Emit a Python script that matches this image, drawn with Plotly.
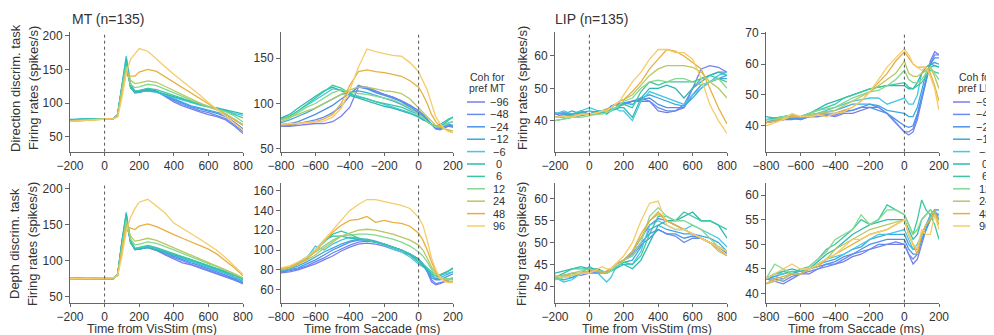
import plotly.graph_objects as go

COH = [-96, -48, -24, -12, -6, 0, 6, 12, 24, 48, 96]
COLORS = ["#7a7ee8", "#6a8af0", "#4f92ea", "#3fa8e0", "#45c8e4", "#2fb8b0",
          "#3cc89e", "#84d890", "#b6c860", "#e6b040", "#f6cc6a"]

T_VIS = [-200, -150, -100, -50, 0, 50, 75, 100, 125, 150, 175, 200, 250, 300,
         350, 400, 450, 500, 550, 600, 650, 700, 750, 800]
T_SAC = [-800, -750, -700, -650, -600, -550, -500, -450, -400, -350, -300, -250,
         -200, -150, -100, -50, 0, 25, 50, 75, 100, 125, 150, 175, 200]

VIS_TICKS = [-200, 0, 200, 400, 600, 800]
SAC_TICKS = [-800, -600, -400, -200, 0, 200]

# MT, direction task, aligned to VisStim
MT_DIR_VIS = [
    [73, 75, 76, 76, 77, 77, 82, 120, 150, 128, 118, 118, 122, 118, 110, 102, 96, 91, 87, 83, 80, 75, 66, 55],
    [74, 75, 76, 77, 77, 77, 82, 122, 155, 126, 116, 117, 121, 117, 110, 104, 98, 93, 89, 86, 82, 77, 68, 58],
    [74, 76, 76, 77, 77, 77, 82, 124, 160, 124, 115, 116, 120, 117, 111, 105, 100, 95, 92, 89, 85, 80, 72, 62],
    [75, 76, 77, 77, 77, 77, 83, 126, 164, 126, 116, 116, 119, 117, 112, 106, 101, 96, 93, 90, 87, 83, 76, 68],
    [76, 77, 77, 77, 77, 77, 83, 128, 170, 130, 117, 117, 118, 116, 112, 108, 104, 100, 97, 94, 92, 89, 85, 82],
    [75, 76, 77, 77, 77, 77, 83, 127, 166, 125, 117, 117, 119, 117, 113, 110, 106, 103, 99, 95, 93, 90, 86, 84],
    [74, 75, 76, 76, 77, 77, 82, 124, 160, 122, 118, 119, 122, 120, 116, 112, 107, 102, 98, 94, 91, 88, 83, 78],
    [74, 75, 76, 76, 77, 77, 82, 120, 155, 128, 123, 124, 128, 126, 121, 115, 110, 104, 100, 95, 91, 87, 81, 72],
    [73, 74, 75, 76, 76, 77, 81, 118, 150, 134, 129, 130, 133, 131, 125, 118, 112, 106, 100, 94, 90, 84, 76, 68],
    [73, 74, 75, 76, 76, 77, 80, 110, 145, 140, 140, 146, 150, 147, 139, 131, 122, 114, 106, 98, 91, 84, 76, 67],
    [73, 74, 75, 76, 76, 77, 79, 108, 145, 165, 173, 181, 177, 165, 154, 143, 133, 122, 112, 101, 91, 80, 70, 60],
]

# MT, direction task, aligned to Saccade
MT_DIR_SAC = [
    [75, 75, 76, 77, 78, 78, 80, 86, 96, 118, 118, 114, 110, 107, 103, 98, 92, 88, 83, 77, 72, 71, 73, 75, 74],
    [76, 76, 78, 80, 82, 85, 90, 97, 108, 120, 117, 113, 110, 107, 103, 98, 92, 88, 83, 77, 72, 72, 74, 76, 76],
    [77, 78, 80, 84, 88, 93, 98, 105, 112, 118, 116, 112, 109, 106, 102, 96, 90, 86, 82, 77, 73, 73, 75, 77, 74],
    [79, 82, 86, 90, 95, 100, 105, 110, 112, 114, 112, 109, 106, 103, 99, 94, 89, 85, 81, 77, 74, 74, 76, 77, 76],
    [83, 86, 92, 98, 104, 110, 116, 115, 110, 108, 105, 102, 99, 96, 93, 90, 86, 83, 80, 77, 75, 76, 77, 79, 80],
    [84, 88, 95, 102, 108, 114, 118, 114, 109, 106, 103, 100, 97, 95, 92, 89, 85, 82, 80, 77, 75, 77, 80, 83, 85],
    [82, 86, 92, 99, 105, 112, 120, 117, 111, 107, 105, 102, 100, 98, 96, 92, 88, 85, 80, 77, 75, 76, 78, 82, 85],
    [80, 84, 90, 96, 100, 106, 112, 115, 113, 111, 110, 108, 106, 104, 100, 95, 88, 85, 80, 77, 74, 75, 76, 78, 80],
    [82, 85, 88, 92, 95, 100, 105, 110, 115, 118, 118, 116, 114, 113, 111, 105, 95, 90, 85, 80, 76, 74, 72, 71, 70],
    [76, 77, 78, 79, 80, 83, 88, 100, 120, 135, 137, 135, 134, 132, 130, 125, 118, 110, 100, 88, 80, 75, 72, 70, 68],
    [77, 78, 78, 79, 80, 81, 85, 95, 115, 140, 160, 157, 155, 153, 152, 145, 135, 125, 115, 100, 85, 78, 72, 69, 68],
]

# MT, depth task, aligned to VisStim
MT_DEP_VIS = [
    [74, 75, 75, 75, 75, 75, 80, 120, 152, 128, 116, 116, 118, 114, 108, 102, 97, 94, 90, 86, 82, 78, 73, 68],
    [75, 75, 75, 75, 75, 75, 80, 122, 155, 127, 116, 116, 119, 115, 109, 104, 99, 95, 91, 87, 83, 79, 74, 68],
    [75, 75, 75, 76, 75, 75, 80, 124, 160, 126, 115, 116, 120, 116, 111, 106, 101, 97, 93, 89, 85, 80, 75, 69],
    [75, 76, 75, 76, 75, 75, 80, 126, 163, 127, 116, 117, 120, 117, 112, 107, 103, 99, 95, 91, 87, 82, 77, 71],
    [76, 76, 76, 76, 76, 76, 81, 128, 167, 128, 117, 117, 119, 116, 112, 108, 104, 100, 96, 92, 88, 84, 79, 73],
    [75, 75, 75, 75, 75, 75, 80, 127, 165, 125, 116, 116, 118, 115, 111, 108, 105, 101, 97, 93, 89, 85, 80, 75],
    [74, 74, 74, 74, 74, 75, 80, 124, 160, 124, 117, 118, 121, 118, 114, 110, 106, 102, 98, 94, 90, 85, 80, 74],
    [74, 74, 74, 74, 74, 75, 80, 120, 156, 130, 122, 123, 126, 124, 120, 115, 110, 105, 100, 96, 92, 87, 82, 76],
    [74, 74, 75, 75, 75, 75, 80, 118, 150, 134, 127, 128, 131, 128, 123, 118, 112, 107, 102, 97, 93, 88, 82, 76],
    [75, 75, 76, 76, 76, 76, 80, 114, 148, 145, 143, 148, 151, 147, 141, 136, 131, 126, 121, 116, 109, 100, 90, 79],
    [75, 75, 76, 76, 76, 76, 79, 106, 140, 160, 172, 181, 185, 176, 166, 152, 145, 138, 130, 122, 114, 104, 93, 81],
]

# MT, depth task, aligned to Saccade
MT_DEP_SAC = [
    [77, 78, 80, 83, 86, 90, 94, 99, 103, 106, 107, 106, 104, 101, 98, 95, 90, 85, 78, 68, 65, 66, 68, 70, 72],
    [78, 79, 81, 84, 88, 92, 97, 101, 105, 108, 109, 108, 106, 103, 100, 96, 91, 86, 80, 70, 66, 67, 68, 70, 71],
    [78, 80, 82, 86, 90, 95, 100, 104, 108, 110, 110, 108, 106, 103, 100, 96, 91, 86, 80, 72, 70, 70, 72, 74, 76],
    [79, 81, 84, 88, 93, 98, 102, 106, 109, 111, 111, 109, 106, 103, 100, 96, 90, 85, 80, 74, 71, 72, 74, 76, 78],
    [80, 82, 86, 92, 104, 100, 106, 110, 113, 112, 110, 108, 105, 101, 98, 93, 86, 83, 80, 75, 73, 74, 76, 77, 78],
    [80, 82, 86, 92, 100, 110, 114, 114, 112, 111, 110, 108, 106, 103, 100, 95, 88, 84, 80, 76, 74, 75, 77, 79, 82],
    [80, 82, 87, 93, 100, 108, 116, 119, 116, 112, 110, 108, 106, 103, 100, 96, 90, 86, 82, 77, 74, 75, 77, 79, 81],
    [80, 82, 86, 92, 98, 104, 110, 114, 115, 116, 116, 115, 113, 111, 108, 104, 98, 94, 88, 80, 73, 71, 71, 71, 72],
    [80, 82, 86, 90, 95, 102, 108, 114, 117, 120, 121, 120, 118, 116, 113, 110, 105, 100, 92, 83, 76, 72, 70, 70, 70],
    [81, 83, 86, 91, 99, 108, 118, 125, 130, 131, 134, 128, 130, 128, 127, 124, 117, 110, 100, 88, 78, 72, 69, 68, 68],
    [82, 84, 88, 93, 100, 110, 120, 130, 140, 146, 151, 151, 149, 147, 145, 142, 133, 125, 110, 92, 80, 72, 68, 67, 67],
]

# LIP, direction task, aligned to VisStim
LIP_DIR_VIS = [
    [42, 41.5, 42, 42.5, 42, 43, 42.5, 43, 44, 45, 44.5, 45, 46, 47, 46, 43, 42.5, 43, 44, 50, 56, 57, 56.5, 55],
    [41, 42, 41.5, 42, 42, 42.5, 43, 43.5, 44, 45, 45.5, 45, 46, 46, 46, 44, 43, 43, 45, 50, 53, 54, 55, 55],
    [42, 42.5, 42, 43, 42, 43, 42.5, 43, 44.5, 45, 45, 45.5, 46, 46.5, 47, 45, 44, 44, 44, 48, 51, 52, 53, 54],
    [42.5, 42, 43, 42, 42, 43, 43, 43.5, 44, 45, 45, 45.5, 45, 47, 48, 47, 46, 45, 44.5, 47, 50, 52, 53, 53],
    [42, 43, 42, 43, 44, 43, 43, 43, 43.5, 44, 43, 43, 40, 46, 49, 48, 47, 46, 45, 48, 50, 52, 54, 55],
    [41, 41.5, 42, 42.5, 43, 42.5, 43, 42, 43, 43.5, 44, 44, 41, 47, 50, 50, 51, 50, 47, 50, 52, 54, 55, 54],
    [40, 40.5, 41, 41.5, 42, 42, 42.5, 43, 43, 44, 44.5, 45, 44, 49, 52, 51, 52, 52, 52, 52, 53, 54, 53, 52],
    [40, 40.5, 41, 41, 41.5, 42, 42, 42.5, 43, 44, 45, 46, 47, 50, 52, 52.5, 52, 53, 53, 52, 51, 52, 53, 50],
    [41, 41.5, 41, 42, 42, 42.5, 43, 43, 44, 45, 46, 46.5, 48, 51, 54, 56, 57, 57, 57, 56.5, 55, 52, 50, 47],
    [41, 41, 41.5, 42, 42, 42.5, 43, 43.5, 44, 45, 46, 46.5, 49, 52, 56, 59, 62, 61.5, 60, 58, 56, 50, 44, 39],
    [41, 41.5, 41, 42, 42, 42.5, 43, 43, 44, 45, 46, 48, 52, 55, 59, 62, 62, 61, 61, 59, 53, 45, 40, 36],
]

# LIP, direction task, aligned to Saccade
LIP_DIR_SAC = [
    [41, 41.5, 42, 42, 42.5, 43, 43, 43.5, 43, 44, 44, 45, 46, 46, 44, 41, 38, 37, 38, 42, 48, 55, 61, 64, 63],
    [41, 42, 42, 42.5, 42, 43, 43, 43.5, 43.5, 44.5, 45, 46, 47, 46, 44, 41, 38, 38, 39, 43, 49, 55, 60, 63, 63],
    [41, 41.5, 42, 42.5, 42, 43, 43.5, 44, 44, 45, 45, 46, 46, 45, 44, 42, 40, 39.5, 40, 44, 50, 55, 60, 62, 62],
    [42, 42, 42, 43, 42.5, 43.5, 44, 44.5, 45, 46, 47, 47, 47, 46.5, 45, 44.5, 44, 43, 43, 46, 52, 57, 60, 60.5, 60],
    [42, 42.5, 42, 43, 43, 43.5, 44, 45, 46, 47, 48, 48.5, 49, 49, 47, 48, 49, 47, 47, 50, 57, 58, 59, 59.5, 59],
    [43, 42.5, 43, 43.5, 43, 44, 45.5, 47, 48, 49, 50, 51, 52, 52.5, 53, 53, 53, 52, 52, 54, 57, 59, 60, 59.5, 59],
    [42, 42.5, 43, 43, 43, 44, 45, 46, 47, 49, 50, 51, 52, 52.5, 53, 53.5, 54, 52.5, 52, 53, 54, 56, 58, 57.5, 57],
    [42, 42, 43, 43.5, 43, 44, 45, 45.5, 46, 47.5, 49, 50, 51, 51.5, 53, 55, 58, 55, 54, 54, 55, 57, 59, 57, 55],
    [42, 42, 42.5, 43, 43, 43.5, 44, 44.5, 45, 46.5, 48, 49.5, 51, 53, 55, 57, 61, 57, 56, 56, 57, 58, 59, 56, 52],
    [41, 41.5, 42, 43, 43, 43, 43.5, 44, 44, 45, 46, 48, 51, 54, 57, 61, 64, 62, 60, 59, 59, 59, 57, 53, 48],
    [40, 41, 42, 44, 43, 43, 43.5, 43, 44, 44.5, 46, 48, 51, 55, 59, 62, 65, 63, 60, 59, 58, 59, 56, 52, 45],
]

# LIP, depth task, aligned to VisStim
LIP_DEP_VIS = [
    [42, 42.5, 43, 42.5, 43, 43, 43.5, 43, 44, 45, 45.5, 46, 48, 51, 54, 55.5, 55, 54, 53, 52, 51, 50, 49, 48],
    [42.5, 42, 42.5, 43, 43.5, 43, 43, 43.5, 44, 45, 45.5, 46, 47.5, 50, 52, 53, 52, 51.5, 50, 51, 51, 50, 49, 48],
    [42, 42.5, 42, 43, 43.5, 44, 43.5, 43, 44, 45, 45.5, 46, 47, 49.5, 51, 53, 52, 52, 51, 51.5, 51, 50, 49, 47.5],
    [42, 41.5, 42, 43, 44.5, 43.5, 43, 43, 43.5, 44, 45, 45.5, 46, 49, 53, 54, 53, 52.5, 52, 52, 51.5, 51, 50, 48],
    [42, 41, 41.5, 43, 44.5, 43, 42, 41, 42, 44, 45, 45, 45, 48, 54, 55, 54, 53, 53, 54, 53, 52, 51, 49],
    [43, 43.5, 44, 44.5, 44, 44, 43, 43, 43.5, 44, 44.5, 45, 44, 46, 50, 54, 55, 55, 56, 57, 55, 55, 54, 51],
    [42, 43, 44, 44, 44, 43.5, 43, 43, 43.5, 44, 45, 45.5, 45, 47, 52, 56, 56, 55, 57, 56, 55, 55, 54, 53],
    [41.5, 42, 43, 43.5, 44, 43.5, 43.5, 43, 43.5, 44.5, 45, 46, 47, 50, 56, 58, 56, 55, 55, 54, 53, 51, 49, 48],
    [42, 42.5, 43, 43, 43.5, 43.5, 43, 43, 44, 45, 45.5, 46, 48, 51, 55, 56.5, 55, 54, 53, 52, 51, 50, 48, 47],
    [42, 42.5, 42.5, 43, 43.5, 43.5, 43, 43.5, 44, 45, 45.5, 46, 48, 52, 55, 57, 55, 54, 53, 52, 51, 50, 48.5, 47],
    [42.5, 42, 42.5, 43, 43, 44, 44.5, 44, 44, 45, 46, 47, 50, 55, 59, 59.5, 54, 53, 53, 52, 51, 50, 49, 48],
]

# LIP, depth task, aligned to Saccade
LIP_DEP_SAC = [
    [43, 42.5, 42, 43, 44, 44, 45, 45.5, 46, 46.5, 47.5, 48, 49, 49.5, 50, 50, 50, 48, 46, 47, 50, 53, 56, 57, 55],
    [43, 43, 42.5, 43.5, 44, 44.5, 45, 46, 46, 47, 48, 48.5, 49, 50, 50, 50.5, 50, 48, 47, 48, 51, 53, 55, 56, 56],
    [43, 43.5, 43, 44, 44, 45, 45.5, 46, 46.5, 47.5, 48, 49, 50, 50.5, 51, 51, 51, 49, 48, 48, 51, 53, 55, 57, 57],
    [43, 43.5, 44, 44.5, 44, 45, 46, 46.5, 47, 48, 49, 49.5, 51, 51.5, 52, 52, 52, 50, 49, 49, 51, 53, 55, 56.5, 56],
    [43, 44, 44, 44.5, 44.5, 45, 46, 47, 47.5, 48, 49, 50, 51, 52, 52, 52.5, 53, 51, 49, 50, 52, 54, 56, 57, 57],
    [43, 44, 44.5, 45, 44.5, 45, 46.5, 48, 49, 50.5, 52, 53, 54, 54.5, 55, 55, 55, 53, 51, 52, 55, 56, 57, 56, 55],
    [43, 44, 44.5, 44, 45, 45.5, 47, 49, 50, 51.5, 53, 55, 54, 55, 58, 57, 56, 54, 52, 55, 59, 57, 56, 54, 51],
    [43, 46, 45, 44, 44, 45.5, 47, 48.5, 51, 52, 53, 56, 54, 55, 57, 57, 56, 54, 52, 53, 55, 56, 57, 56, 55],
    [42, 42.5, 43, 44, 44, 45, 46, 47, 49, 50, 51, 52, 53, 53.5, 54, 54.5, 55, 52, 50, 49, 52, 54, 55, 56, 54],
    [42, 43, 43.5, 44, 44, 45, 45.5, 47, 48, 49, 50, 51, 52, 52.5, 53, 54, 55, 52, 50, 48, 52, 54, 55, 57, 54],
    [43, 44, 45, 46, 45, 45, 46, 47, 48, 49.5, 51, 51, 52, 52.5, 53, 54, 55, 52, 50, 49, 53, 52, 52, 56, 53],
]

W, H = 994, 335
OFF = 8  # page body margin in the browser
FONT = "Liberation Sans, Arial, sans-serif"


def px(x):
    return (x - OFF) / W


def py(y):
    return 1 - (y - OFF) / H


COLS = [(70, 243), (281, 453), (555, 727), (766, 939)]
ROWS = [(31.7, 151.7), (182.7, 302.5)]

PANELS = [
    # data, times, col, row, yrange, yticks, xticks
    (MT_DIR_VIS, T_VIS, 0, 0, [28, 206], [50, 100, 150, 200], VIS_TICKS),
    (MT_DIR_SAC, T_SAC, 1, 0, [47, 179], [50, 100, 150], SAC_TICKS),
    (LIP_DIR_VIS, T_VIS, 2, 0, [30.4, 67.5], [40, 50, 60], VIS_TICKS),
    (LIP_DIR_SAC, T_SAC, 3, 0, [31.6, 70.5], [40, 50, 60, 70], SAC_TICKS),
    (MT_DEP_VIS, T_VIS, 0, 1, [42, 208], [50, 100, 150, 200], VIS_TICKS),
    (MT_DEP_SAC, T_SAC, 1, 1, [47, 168], [60, 80, 100, 120, 140, 160], SAC_TICKS),
    (LIP_DEP_VIS, T_VIS, 2, 1, [36.3, 63.7], [40, 45, 50, 55, 60], VIS_TICKS),
    (LIP_DEP_SAC, T_SAC, 3, 1, [38.2, 62.5], [40, 45, 50, 55, 60], SAC_TICKS),
]

fig = go.Figure()
layout = {}
shapes = []
for k, (data, times, ci, ri, yr, yt, xt) in enumerate(PANELS):
    n = k + 1
    xa = "x" if n == 1 else f"x{n}"
    ya = "y" if n == 1 else f"y{n}"
    for series, color in zip(data, COLORS):
        fig.add_trace(go.Scatter(x=times, y=series, mode="lines", xaxis=xa, yaxis=ya,
                                 line=dict(color=color, width=1.3), showlegend=False,
                                 hoverinfo="skip"))
    x0, x1 = COLS[ci]
    y0, y1 = ROWS[ri]
    common = dict(showline=True, linecolor="#666", linewidth=1, ticks="outside",
                  tickcolor="#666", showgrid=False, zeroline=False, automargin=False)
    layout["xaxis" if n == 1 else f"xaxis{n}"] = dict(
        domain=[px(x0), px(x1)], anchor=ya, range=[times[0], times[-1]], ticklen=3,
        tickvals=xt, tickfont=dict(size=12, color="#333", family=FONT), **common)
    layout["yaxis" if n == 1 else f"yaxis{n}"] = dict(
        domain=[py(y1), py(y0)], anchor=xa, range=yr, tickvals=yt, ticklen=4,
        tickfont=dict(size=12, color="#333", family=FONT), **common)
    shapes.append(dict(type="line", xref=xa, yref=f"{ya} domain", x0=0, x1=0, y0=0, y1=1,
                       line=dict(color="#555", width=1, dash="dot")))

annotations = []


def text(x, y, s, size=13, angle=0, xanchor="center", yanchor="middle"):
    annotations.append(dict(x=px(x), y=py(y), xref="paper", yref="paper", text=s,
                            showarrow=False, textangle=angle, xanchor=xanchor,
                            yanchor=yanchor, font=dict(size=size, color="#333", family=FONT)))


text(70, 19, "MT (n=135)", size=14, xanchor="left")
text(553, 19, "LIP (n=135)", size=14, xanchor="left")
text(15, 88, "Direction discrim. task", size=13, angle=-90)
text(33, 88, "Firing rates (spikes/s)", size=13, angle=-90)
text(15, 244, "Depth discrim. task", size=13, angle=-90)
text(33, 244, "Firing rates (spikes/s)", size=13, angle=-90)
text(522, 88, "Firing rates (spikes/s)", size=13, angle=-90)
text(522, 244, "Firing rates (spikes/s)", size=13, angle=-90)
text(152, 329, "Time from VisStim (ms)", size=12.5)
text(372, 329, "Time from Saccade (ms)", size=12.5)
text(647, 329, "Time from VisStim (ms)", size=12.5)
text(856, 329, "Time from Saccade (ms)", size=12.5)

# legends
for (lx0, lx1, tx, title_x, t1, t2) in [(467, 485, 499, 468, "Coh for", "pref MT"),
                                         (953, 970, 985, 957, "Coh for", "pref LIP")]:
    text(title_x, 77, t1, size=10.5, xanchor="left")
    text(title_x - 1, 88, t2, size=10.5, xanchor="left")
    for i, (c, color) in enumerate(zip(COH, COLORS)):
        yy = 102 + i * 12.4
        shapes.append(dict(type="line", xref="paper", yref="paper", x0=px(lx0), x1=px(lx1),
                           y0=py(yy), y1=py(yy), line=dict(color=color, width=1.5)))
        text(tx, yy, str(c).replace("-", "\u2212"), size=11)

fig.update_layout(width=W, height=H, autosize=False,
                  margin=dict(l=0, r=0, t=0, b=0, pad=0, autoexpand=False),
                  paper_bgcolor="white", plot_bgcolor="white", shapes=shapes,
                  annotations=annotations, **layout)
fig.write_html("out.html")
